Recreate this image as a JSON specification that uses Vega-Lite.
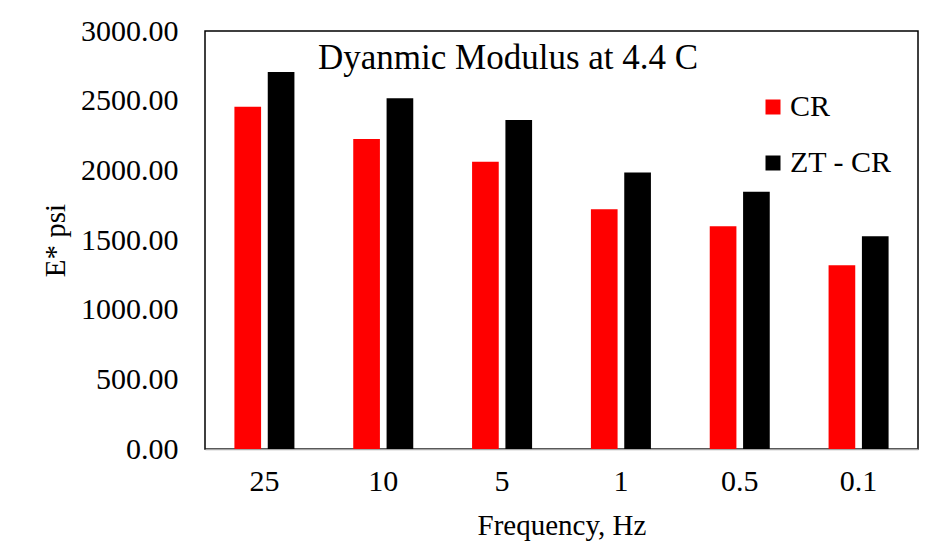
{
  "$schema": "https://vega.github.io/schema/vega-lite/v6.json",
  "width": 713,
  "height": 418,
  "autosize": {"type": "none"},
  "padding": {"left": 205, "top": 31, "right": 25, "bottom": 101},
  "background": "white",
  "config": {
    "font": "Liberation Serif",
    "title": {"font": "Liberation Serif", "fontSize": 35, "fontWeight": "normal", "color": "#000000"},
    "axis": {"labelFont": "Liberation Serif", "titleFont": "Liberation Serif"},
    "legend": {"labelFont": "Liberation Serif"},
    "view": {"stroke": "#000000", "strokeWidth": 1.5}
  },
  "title": {
    "text": "Dyanmic Modulus at 4.4 C",
    "font": "Liberation Serif",
    "fontSize": 35,
    "fontWeight": "normal",
    "color": "#000000",
    "anchor": "start",
    "frame": "group",
    "dx": 113,
    "dy": 64
  },
  "data": {
    "values": [
      {"freq": "25", "series": "CR", "E": 2456},
      {"freq": "25", "series": "ZT - CR", "E": 2705},
      {"freq": "10", "series": "CR", "E": 2224},
      {"freq": "10", "series": "ZT - CR", "E": 2517},
      {"freq": "5", "series": "CR", "E": 2062},
      {"freq": "5", "series": "ZT - CR", "E": 2362},
      {"freq": "1", "series": "CR", "E": 1721},
      {"freq": "1", "series": "ZT - CR", "E": 1984},
      {"freq": "0.5", "series": "CR", "E": 1599},
      {"freq": "0.5", "series": "ZT - CR", "E": 1847},
      {"freq": "0.1", "series": "CR", "E": 1319},
      {"freq": "0.1", "series": "ZT - CR", "E": 1527}
    ]
  },
  "mark": {"type": "bar"},
  "encoding": {
    "x": {
      "field": "freq",
      "type": "nominal",
      "sort": ["25", "10", "5", "1", "0.5", "0.1"],
      "scale": {"paddingInner": 0.495, "paddingOuter": 0.2475},
      "axis": {
        "title": "Frequency, Hz",
        "titleFontSize": 29,
        "titleFontWeight": "normal",
        "titleColor": "#000000",
        "titlePadding": 15,
        "labelFontSize": 30,
        "labelColor": "#000000",
        "labelAngle": 0,
        "labelPadding": 17,
        "ticks": false,
        "domainColor": "#a6a6a6",
        "domainWidth": 1.5
      }
    },
    "xOffset": {
      "field": "series",
      "type": "nominal",
      "sort": ["CR", "ZT - CR"],
      "scale": {"paddingInner": 0.2, "paddingOuter": 0}
    },
    "y": {
      "field": "E",
      "type": "quantitative",
      "scale": {"domain": [0, 3000], "nice": false},
      "axis": {
        "title": "E* psi",
        "titleFontSize": 29,
        "titleFontWeight": "normal",
        "titleColor": "#000000",
        "titlePadding": 10,
        "values": [0, 500, 1000, 1500, 2000, 2500, 3000],
        "format": ".2f",
        "labelFontSize": 30,
        "labelColor": "#000000",
        "labelPadding": 27,
        "ticks": false,
        "domain": false,
        "grid": false
      }
    },
    "color": {
      "field": "series",
      "type": "nominal",
      "scale": {"domain": ["CR", "ZT - CR"], "range": ["#FF0000", "#000000"]},
      "legend": {
        "title": null,
        "orient": "none",
        "legendX": 553,
        "legendY": 61,
        "symbolType": "square",
        "symbolSize": 225,
        "symbolStrokeWidth": 0,
        "labelFontSize": 30,
        "labelColor": "#000000",
        "labelOffset": 2,
        "rowPadding": 26,
        "labelLimit": 300
      }
    }
  }
}
